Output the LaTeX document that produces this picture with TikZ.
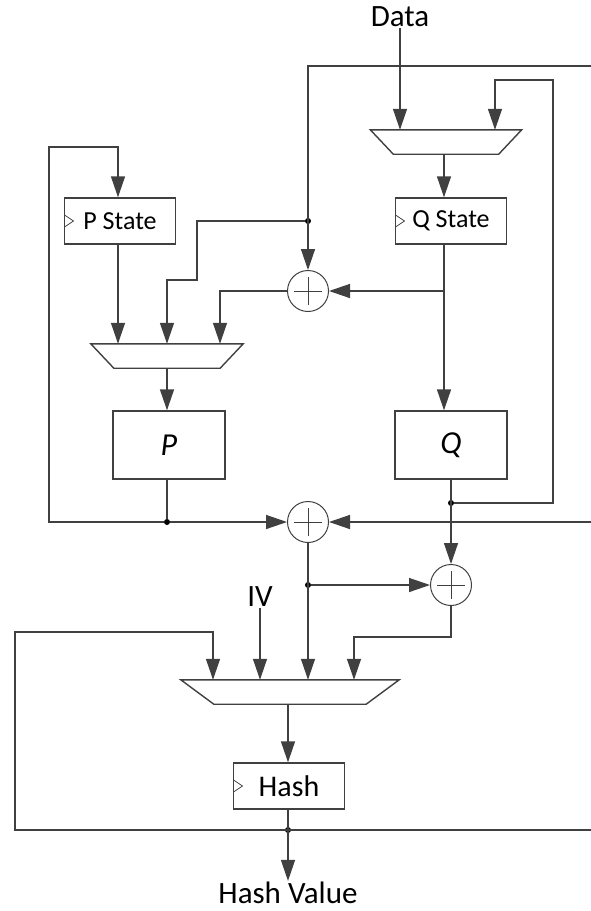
\documentclass[tikz,border=0pt]{standalone}
\usepackage{fontspec}
\setmainfont{Carlito}
\usetikzlibrary{arrows.meta}

\begin{document}
\begin{tikzpicture}[
  x=1pt, y=-1pt,
  every node/.style={font=\fontsize{26}{30}\selectfont},
  label/.style={font=\fontsize{31}{36}\selectfont, inner sep=1pt},
  wire/.style={line width=1.4pt, draw=black!75},
  arrow/.style={wire, -{Triangle[length=21pt,width=14pt]}},
  reg/.style={draw=black!75, line width=1.4pt, rectangle, minimum width=111pt,
              minimum height=46pt, inner sep=0pt,
              path picture={\draw[line width=0.8pt]
                ([yshift=6pt]path picture bounding box.west) --
                ([xshift=9pt]path picture bounding box.west) --
                ([yshift=-6pt]path picture bounding box.west);}},
  func/.style={draw=black!75, line width=1.4pt, rectangle, minimum width=112pt,
               minimum height=68pt, font=\fontsize{32}{36}\selectfont\itshape},
  mux/.style={rectangle, minimum height=24pt, inner sep=0pt},
  xor/.style={draw=black!75, line width=1pt, circle, minimum size=41pt, inner sep=0pt,
              path picture={\draw[line width=1pt]
                ([xshift=-14pt]path picture bounding box.center) --
                ([xshift=14pt]path picture bounding box.center)
                ([yshift=-14pt]path picture bounding box.center) --
                ([yshift=14pt]path picture bounding box.center);}},
  dot/.style={circle, fill=black, inner sep=0pt, minimum size=6pt}
]
  \useasboundingbox (0,0) rectangle (591,911);

  % State registers
  \node[reg] (pst)  at (120,221) {P State};
  \node[reg] (qst)  at (451,221) {Q State};
  \node[reg, font=\fontsize{30}{34}\selectfont] (hreg) at (289,786) {Hash};

  % Permutations
  \node[func] (pbox) at (169,445) {P};
  \node[func] (qbox) at (451,445) {Q};

  % Multiplexers
  \node[mux, minimum width=152pt] (muxp) at (167,356) {};
  \node[mux, minimum width=151pt] (muxq) at (446,142) {};
  \node[mux, minimum width=218pt] (muxh) at (290,692) {};
  \foreach \m/\d in {muxp/23, muxq/23, muxh/33}
    \draw[wire] (\m.north west) -- (\m.north east)
      -- ([xshift=-\d pt]\m.south east) -- ([xshift=\d pt]\m.south west) -- cycle;

  % XOR gates
  \node[xor] (xa) at (308,291) {};
  \node[xor] (xb) at (308,522) {};
  \node[xor] (xc) at (451,585) {};

  % Labels
  \node[label] (data) at (400,17)  {Data};
  \node[label] (iv)   at (260,597) {IV};
  \node[label] (hv)   at (288,893) {Hash Value};

  % Junctions
  \node[dot] (d1) at (308,221) {};
  \node[dot] (d2) at (167,522) {};
  \node[dot] (d3) at (451,503) {};
  \node[dot] (d4) at (308,585) {};
  \node[dot] (d5) at (288,830) {};

  % Lines coming in from the right border
  \coordinate (rin1) at (591,66);
  \coordinate (rin2) at (591,522);
  \coordinate (rin3) at (591,830);

  % Q side
  \draw[arrow] (data) -- (data |- muxq.north);
  \draw[arrow] (d3) -| (553,80) -| ([xshift=49pt]muxq.north);
  \draw[arrow] (muxq.south -| 444,0) -- (qst.north -| 444,0);
  \draw[arrow] (qst.south -| 444,0) -- (qbox.north -| 444,0);
  \draw[arrow] (xa -| 444,0) -- (xa.east);
  \draw[arrow] (rin1) -| (xa.north);

  % P side
  \draw[arrow] (d1) -| (197,280) -| (muxp.north);
  \draw[arrow] (xa.west) -| ([xshift=53pt]muxp.north);
  \draw[arrow] (pst.south -| 118,0) -- (muxp.north -| 118,0);
  \draw[arrow] (muxp.south) -- (muxp.south |- pbox.north);
  \draw[wire] (pbox.south -| d2) -- (d2);
  \draw[arrow] (d2) -| (49,147) -| (pst.north -| 118,0);

  % Output XORs
  \draw[arrow] (d2) -- (xb.west);
  \draw[arrow] (rin2) -- (xb.east);
  \draw[arrow] (qbox) -- (xc.north);
  \draw[arrow] (xb) -- (xb |- muxh.north);
  \draw[arrow] (d4) -- (xc.west);
  \draw[arrow] (xc.south) -- ++(0,31) -| ([xshift=64pt]muxh.north);

  % Hash
  \draw[arrow] (iv) -- (iv |- muxh.north);
  \draw[arrow] (rin3) -| (15,632) -| ([xshift=-77pt]muxh.north);
  \draw[arrow] (muxh.south -| d5) -- (hreg.north -| d5);
  \draw[arrow] (hreg.south -| d5) -- (hv);
\end{tikzpicture}
\end{document}
